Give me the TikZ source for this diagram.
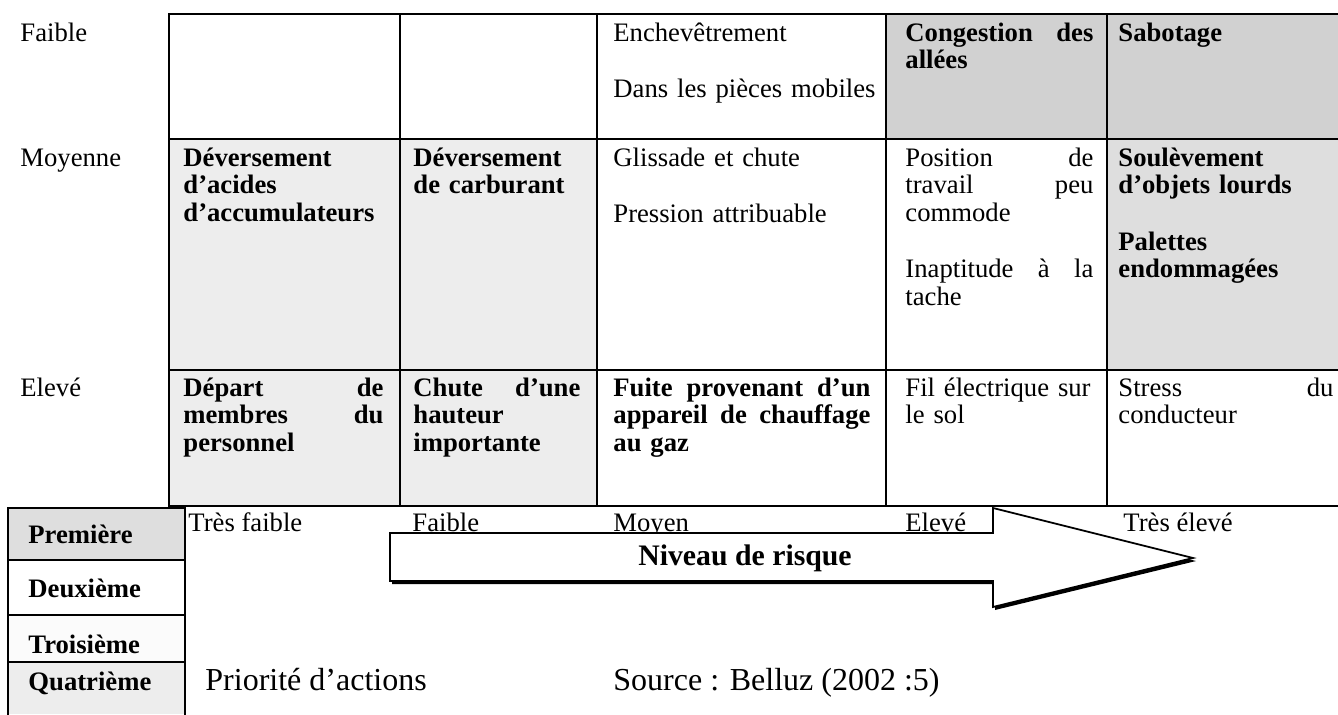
\documentclass[tikz,border=0pt]{standalone}
\usepackage{fontspec}
\setmainfont{Liberation Serif}
\begin{document}
\begin{tikzpicture}[x=0.45pt,y=-0.45pt,
  gridline/.style={line width=0.9pt,black},
  legline/.style={line width=1.1pt,black},
  txt/.style={anchor=base west,inner sep=0pt,font=\fontsize{12}{12.4}\selectfont},
  cell/.style={txt,text width=#1},
  bcell/.style={cell=#1,font=\fontsize{12}{12.4}\selectfont\bfseries},
  big/.style={anchor=base west,inner sep=0pt,font=\fontsize{14.4}{17}\selectfont},
  legtxt/.style={anchor=base west,inner sep=0pt,font=\fontsize{12}{13.3}\selectfont\bfseries}]
\definecolor{shadeA}{gray}{0.82}
\definecolor{shadeB}{gray}{0.87}
\definecolor{shadeC}{gray}{0.93}
\hyphenpenalty=10000
\useasboundingbox (0,0) rectangle (1338,714);

% shaded cells of the matrix
\fill[shadeA] (886,14) rectangle (1338,139);
\fill[shadeB] (1107,139) rectangle (1338,370);
\fill[shadeC] (169,139) rectangle (597,370);
\fill[shadeC] (169,370) rectangle (597,506);

% matrix grid
\draw[gridline] (1338,14) -- (169,14) -- (169,506) -- (1338,506);
\draw[gridline] (169,139) -- (1338,139);
\draw[gridline] (169,370) -- (1338,370);
\foreach \cx in {400,597,886,1107} \draw[gridline] (\cx,14) -- (\cx,506);

% probability labels
\node[txt] (pf) at (20,41) {Faible};
\node[txt] (pm) at (20,166) {Moyenne};
\node[txt] (pe) at (20,396) {Elevé};

% row: Faible
\node[cell=270pt*0.45] (c13) at (613,41) {Enchevêtrement\\[13pt]Dans les pièces mobiles};
\node[bcell=188pt*0.45] (c14) at (905,41) {Congestion\hfill des\\allées};
\node[bcell=215pt*0.45] (c15) at (1118,41) {Sabotage};

% row: Moyenne
\node[bcell=205pt*0.45] (c21) at (183,166) {Déversement\\d’acides\\d’accumulateurs};
\node[bcell=175pt*0.45] (c22) at (413,166) {Déversement\\de carburant};
\node[cell=270pt*0.45] (c23) at (613,166) {Glissade et chute\\[13pt]Pression attribuable};
\node[cell=188pt*0.45] (c24) at (905,166) {Position\hfill de\\travail\hfill peu\\commode\\[13pt]Inaptitude\hfill à\hfill la\\tache};
\node[bcell=215pt*0.45] (c25) at (1118,166) {Soulèvement\\d’objets lourds\\[13pt]Palettes\\endommagées};

% row: Elevé
\node[bcell=200pt*0.45] (c31) at (183,396) {Départ\hfill de\\membres\hfill du\\personnel};
\node[bcell=167pt*0.45] (c32) at (413,396) {Chute\hfill d’une\\hauteur\\importante};
\node[bcell=257pt*0.45] (c33) at (613,396) {Fuite\hfill provenant\hfill d’un\\appareil\hfill de\hfill chauffage\\au gaz};
\node[cell=188pt*0.45] (c34) at (905,396) {Fil électrique sur\\le sol};
\node[cell=215pt*0.45] (c35) at (1118,396) {Stress\hfill du\\conducteur};

% risk levels
\node[txt] (r1) at (188,531) {Très faible};
\node[txt] (r2) at (412,531) {Faible};
\node[txt] (r3) at (613,531) {Moyen};
\node[txt] (r4) at (905,531) {Elevé};
\node[txt] (r5) at (1123,531) {Très élevé};

% risk arrow with its shadow
\fill[black] (392,536) -- (995,536) -- (995,511) -- (1196,561) -- (995,610) -- (995,584) -- (392,584) -- cycle;
\draw[line width=0.8pt,fill=white] (390,533) -- (993,533) -- (993,508) -- (1193,558) -- (993,607) -- (993,581) -- (390,581) -- cycle;
\node[anchor=base,inner sep=0pt,font=\fontsize{13.4}{16}\selectfont\bfseries] (risk) at (745,565) {Niveau de risque};

% priority legend
\fill[shadeB] (8,508) rectangle (185,560);
\fill[gray!3] (8,615) rectangle (185,662);
\fill[shadeC] (8,662) rectangle (185,714);
\draw[legline] (8,716) -- (8,508) -- (185,508) -- (185,716);
\foreach \ly in {560,615,662} \draw[legline] (8,\ly) -- (185,\ly);
\node[legtxt] (l1) at (28,543) {Première};
\node[legtxt] (l2) at (28,597) {Deuxième};
\node[legtxt] (l3) at (28,653) {Troisième};
\node[legtxt] (l4) at (28,690) {Quatrième};

\node[big] (prio) at (205,690) {Priorité d’actions};
\node[big] (src) at (613,690) {Source : Belluz (2002 :5)};
\end{tikzpicture}
\end{document}
